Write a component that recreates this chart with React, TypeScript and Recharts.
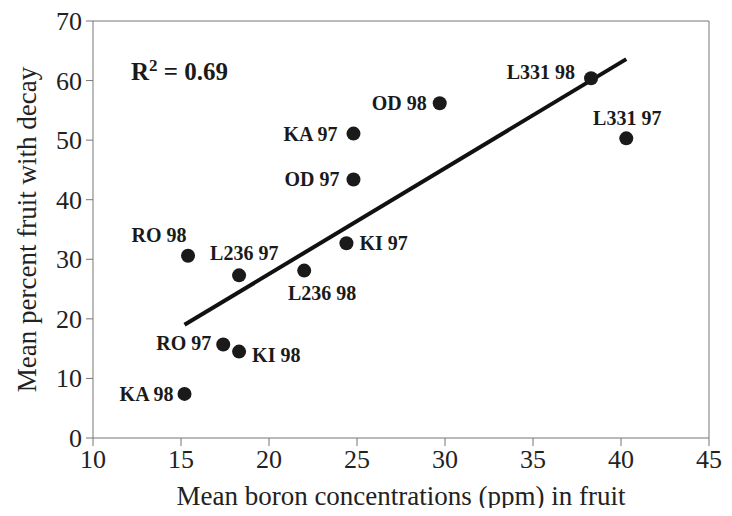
import React from 'react';
import { ReferenceLine, Scatter, ScatterChart, XAxis, YAxis } from 'recharts';

// readings
const names = ['KA 98', 'RO 97', 'KI 98', 'RO 98', 'L236 97', 'L236 98', 'KI 97', 'OD 97', 'KA 97', 'OD 98', 'L331 98', 'L331 97'];
const boron = [15.2, 17.4, 18.3, 15.4, 18.3, 22.0, 24.4, 24.8, 24.8, 29.7, 38.3, 40.3];
const decay = [7.4, 15.7, 14.5, 30.6, 27.3, 28.1, 32.7, 43.4, 51.1, 56.2, 60.4, 50.3];
const fitX = [15.2, 40.3];
const fitY = [19.0, 63.6];
const xTicks = [10, 15, 20, 25, 30, 35, 40, 45];
const yTicks = [0, 10, 20, 30, 40, 50, 60, 70];

const points = names.map((name, i) => ({ name, x: boron[i], y: decay[i] }));

// label placement relative to each dot
const labelPos: Record<string, { dx: number; dy: number; anchor: 'start' | 'middle' | 'end' }> = {
  'KA 98': { dx: -11, dy: 7, anchor: 'end' },
  'RO 97': { dx: -12, dy: 6, anchor: 'end' },
  'KI 98': { dx: 13, dy: 10, anchor: 'start' },
  'RO 98': { dx: -29, dy: -14, anchor: 'middle' },
  'L236 97': { dx: -29, dy: -15, anchor: 'start' },
  'L236 98': { dx: 18, dy: 29, anchor: 'middle' },
  'KI 97': { dx: 13, dy: 7, anchor: 'start' },
  'OD 97': { dx: -14, dy: 7, anchor: 'end' },
  'KA 97': { dx: -16, dy: 7, anchor: 'end' },
  'OD 98': { dx: -13, dy: 7, anchor: 'end' },
  'L331 98': { dx: -16, dy: 1, anchor: 'end' },
  'L331 97': { dx: 1, dy: -13, anchor: 'middle' },
};

const serif = '"Liberation Serif", "DejaVu Serif", serif';
const axisGray = '#777';

const Dot = (props: any) => {
  const { cx, cy, payload } = props;
  const p = labelPos[payload.name];
  return (
    <g>
      <circle cx={cx} cy={cy} r={7} fill="#1a1a1a" />
      <text
        x={cx + p.dx}
        y={cy + p.dy}
        textAnchor={p.anchor}
        fontFamily={serif}
        fontWeight="bold"
        fontSize={20}
        fill="#1a1a1a"
      >
        {payload.name}
      </text>
    </g>
  );
};

const XTick = ({ x, y, payload }: any) => (
  <text x={x} y={y} dy={20} textAnchor="middle" fontFamily={serif} fontSize={26} fill="#222">
    {payload.value}
  </text>
);

const YTick = ({ x, y, payload }: any) => (
  <text x={x} y={y} dy={9} textAnchor="end" fontFamily={serif} fontSize={26} fill="#222">
    {payload.value}
  </text>
);

export default function App() {
  return (
    <div style={{ margin: -8, width: 732, height: 516, background: '#fff' }}>
      <ScatterChart width={732} height={516} margin={{ top: 21, right: 23, bottom: 0, left: 0 }}>
        <XAxis
          type="number"
          dataKey="x"
          domain={[10, 45]}
          ticks={xTicks}
          height={78}
          stroke={axisGray}
          tickSize={8}
          tickMargin={2}
          tick={<XTick />}
          label={{ value: 'Mean boron concentrations (ppm) in fruit', position: 'insideBottom', offset: 11, fill: '#222', fontSize: 27, fontFamily: serif }}
        />
        <YAxis
          type="number"
          dataKey="y"
          domain={[0, 70]}
          ticks={yTicks}
          width={93}
          stroke={axisGray}
          tickSize={7}
          tickMargin={4}
          tick={<YTick />}
          label={{ value: 'Mean percent fruit with decay', angle: -90, position: 'insideLeft', offset: 26, fill: '#222', fontSize: 27, fontFamily: serif, style: { textAnchor: 'middle' } }}
        />
        <ReferenceLine y={70} stroke={axisGray} />
        <ReferenceLine x={45} stroke={axisGray} />
        <ReferenceLine
          segment={[{ x: fitX[0], y: fitY[0] }, { x: fitX[1], y: fitY[1] }]}
          stroke="#111"
          strokeWidth={4}
        />
        <Scatter data={points} shape={<Dot />} isAnimationActive={false} />
        <text x={131} y={80} fontFamily={serif} fontWeight="bold" fontSize={25} fill="#1a1a1a">
          R<tspan dy={-9} fontSize={17}>2</tspan>
          <tspan dy={9}> = 0.69</tspan>
        </text>
      </ScatterChart>
    </div>
  );
}
